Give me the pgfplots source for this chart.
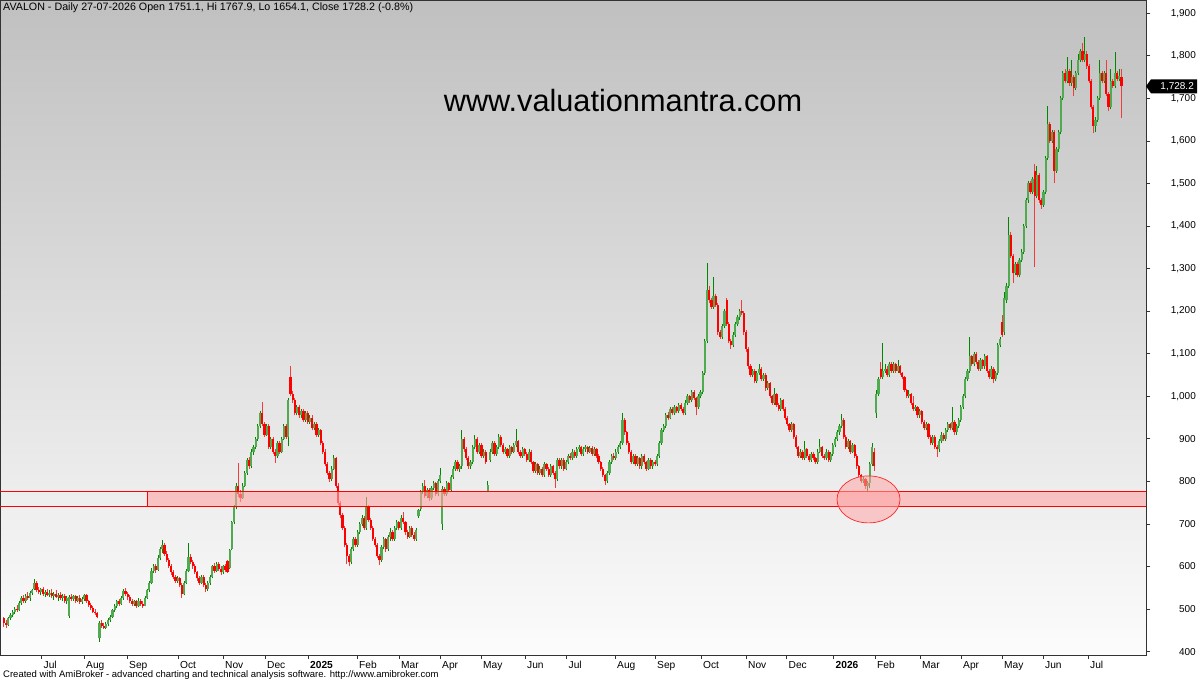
\documentclass[border=0pt]{standalone}
\usepackage{fontspec}
\setmainfont{Liberation Sans}
\usepackage{pgfplots}
\usepackage{pgfplotstable}
\pgfplotsset{compat=1.18}
\definecolor{upw}{RGB}{0,135,0}
\definecolor{upb}{RGB}{80,170,80}
\definecolor{dnw}{RGB}{240,60,60}
\definecolor{dnb}{RGB}{255,0,0}
\definecolor{bgtop}{RGB}{192,192,192}
\definecolor{bgbot}{RGB}{252,252,252}
\definecolor{zonefill}{RGB}{255,165,165}
\pgfplotstableread{
i o h l c
0 478 482 458 468
1 468 475 455 462
2 462 481 460 478
3 478 490 474 486
4 486 498 482 494
5 494 505 488 500
6 500 510 494 497
7 497 518 495 515
8 515 530 510 525
9 525 533 515 518
10 518 535 515 530
11 530 540 522 526
12 526 542 520 538
13 538 548 532 544
14 546 571 544 560
15 560 565 540 545
16 545 552 535 540
17 540 550 532 546
18 546 552 530 535
19 535 545 528 540
20 540 548 530 533
21 533 545 528 538
22 538 546 526 530
23 530 540 522 536
24 536 544 525 528
25 528 538 520 532
26 532 540 522 525
27 525 536 518 530
28 530 535 515 520
29 520 530 512 525
30 484 532 480 528
31 528 535 518 524
32 524 533 520 530
33 530 534 515 520
34 520 530 516 527
35 527 532 512 516
36 516 528 512 524
37 524 536 520 532
38 532 535 515 518
39 518 522 505 510
40 510 514 498 502
41 502 506 490 494
42 494 500 486 490
43 490 494 478 482
44 432 472 423 468
45 468 474 455 460
46 460 468 452 456
47 456 470 452 466
48 466 478 460 474
49 474 486 470 482
50 482 500 480 497
51 497 512 494 508
52 508 522 502 518
53 518 524 508 512
54 512 530 510 526
55 526 548 522 542
56 542 550 530 535
57 535 540 522 528
58 528 533 515 518
59 518 524 506 512
60 512 522 508 518
61 518 522 502 506
62 506 525 504 520
63 520 524 508 512
64 512 518 502 508
65 508 530 506 526
66 526 548 524 545
67 545 566 540 562
68 562 596 558 590
69 590 606 584 600
70 600 605 585 592
71 592 626 590 620
72 620 645 615 640
73 640 662 632 650
74 650 656 625 630
75 630 636 610 615
76 615 620 596 600
77 600 606 580 586
78 586 592 570 575
79 575 580 560 566
80 566 578 562 572
81 572 575 552 556
82 556 560 526 536
83 536 566 532 562
84 562 594 558 590
85 590 655 586 622
86 622 630 605 610
87 610 615 595 600
88 600 606 582 586
89 586 590 566 572
90 572 578 556 562
91 562 580 558 576
92 576 580 552 556
93 556 560 540 546
94 546 565 542 560
95 560 580 556 576
96 576 604 572 600
97 600 608 585 590
98 590 610 586 606
99 606 610 590 595
100 595 600 580 586
101 586 604 582 600
102 600 606 588 592
103 612 616 585 588
104 596 642 594 638
105 640 708 638 704
106 704 745 700 740
107 740 795 735 790
108 790 843 763 770
109 770 780 752 762
110 762 795 758 790
111 790 825 786 820
112 820 856 815 850
113 850 858 830 836
114 836 875 832 870
115 870 886 862 880
116 880 905 876 900
117 900 935 895 930
118 930 965 925 960
119 960 987 930 935
120 935 940 905 910
121 910 935 906 930
122 930 934 875 880
123 880 905 876 900
124 900 904 865 870
125 870 876 843 860
126 860 895 856 890
127 890 894 865 870
128 870 905 866 900
129 900 935 896 930
130 930 934 900 905
131 905 995 882 990
132 1045 1070 1000 1005
133 1005 1012 985 990
134 990 995 955 960
135 960 980 955 975
136 975 980 950 955
137 955 970 950 965
138 965 970 940 945
139 945 965 940 960
140 960 965 935 940
141 940 955 935 950
142 950 955 920 925
143 925 940 920 935
144 935 940 905 910
145 910 925 905 920
146 920 924 885 890
147 890 895 865 870
148 870 875 835 840
149 840 845 815 820
150 820 825 798 805
151 805 835 800 830
152 830 862 826 855
153 855 858 785 790
154 790 795 745 750
155 750 755 715 720
156 720 725 685 690
157 690 695 645 650
158 650 655 605 625
159 625 630 600 610
160 610 645 605 640
161 640 670 636 665
162 665 670 645 650
163 650 685 646 680
164 680 705 676 700
165 700 720 695 715
166 715 718 685 690
167 690 764 686 740
168 740 745 705 710
169 710 715 685 690
170 690 695 660 665
171 665 670 645 650
172 650 655 620 625
173 625 630 604 615
174 615 650 610 645
175 645 670 640 665
176 665 668 635 640
177 640 675 636 670
178 670 690 660 680
179 680 685 660 665
180 665 695 660 690
181 690 710 686 705
182 705 708 685 690
183 690 720 686 715
184 715 728 700 705
185 705 708 675 680
186 680 685 665 670
187 670 695 666 690
188 690 694 670 675
189 675 680 660 665
190 665 690 660 685
191 718 735 714 732
192 735 780 730 775
193 775 795 770 790
194 790 803 760 765
195 765 785 760 780
196 780 784 755 760
197 760 790 756 785
198 785 800 780 795
199 795 798 765 770
200 770 805 765 800
201 800 831 795 815
202 700 790 686 782
203 782 786 765 770
204 770 800 766 795
205 795 798 775 780
206 780 815 776 810
207 810 835 806 830
208 830 850 825 845
209 845 850 825 830
210 830 840 822 835
211 835 921 830 900
212 900 905 870 875
213 875 880 850 855
214 855 860 830 835
215 835 850 830 845
216 845 885 840 880
217 880 910 875 900
218 900 904 865 870
219 870 890 865 885
220 885 890 855 860
221 860 875 855 870
222 870 874 840 845
223 778 800 774 792
224 850 875 845 870
225 870 895 865 890
226 890 894 860 865
227 865 885 860 880
228 880 912 876 905
229 905 908 880 885
230 885 890 865 870
231 870 880 865 875
232 875 878 855 860
233 860 885 856 880
234 880 884 865 870
235 870 890 866 885
236 885 923 880 895
237 895 898 865 870
238 870 874 855 860
239 860 880 856 875
240 875 878 860 865
241 865 868 845 850
242 850 875 846 870
243 870 874 840 845
244 845 848 820 825
245 825 845 820 840
246 840 844 815 820
247 820 835 816 830
248 830 834 810 815
249 815 845 811 840
250 840 844 825 830
251 830 834 810 815
252 815 840 811 835
253 835 838 815 820
254 820 824 785 805
255 805 855 800 850
256 850 854 830 835
257 835 855 830 850
258 850 854 825 830
259 830 850 826 845
260 845 865 840 860
261 860 866 850 855
262 855 875 850 870
263 870 874 855 860
264 860 880 856 875
265 875 886 870 880
266 880 884 860 865
267 865 880 860 875
268 875 885 870 880
269 880 884 865 870
270 870 882 866 878
271 878 882 860 865
272 865 880 860 875
273 875 878 855 860
274 860 864 840 845
275 845 848 825 830
276 830 834 810 815
277 815 818 792 800
278 800 825 796 820
279 820 850 816 845
280 845 865 840 860
281 860 866 850 855
282 855 875 850 870
283 870 885 865 880
284 880 895 875 890
285 890 961 885 945
286 945 950 910 915
287 915 918 885 890
288 890 894 865 870
289 870 874 840 845
290 845 865 840 860
291 860 864 835 840
292 840 860 836 855
293 855 858 830 835
294 835 865 830 860
295 860 864 840 845
296 845 848 825 830
297 830 855 826 850
298 850 854 830 835
299 835 850 830 845
300 845 850 835 840
301 840 865 836 860
302 860 895 856 890
303 890 925 886 920
304 920 935 915 930
305 930 960 926 955
306 955 962 945 950
307 950 975 946 970
308 970 974 955 960
309 960 980 956 975
310 975 978 960 965
311 965 985 960 980
312 980 984 965 970
313 970 974 955 960
314 960 990 956 985
315 985 1005 980 1000
316 1000 1004 985 990
317 990 1015 986 1010
318 1010 1014 990 995
319 995 998 955 975
320 975 1005 970 1000
321 1000 1015 995 1010
322 1010 1060 1005 1055
323 1055 1135 1050 1130
324 1130 1313 1125 1250
325 1250 1260 1220 1225
326 1225 1230 1205 1210
327 1210 1280 1205 1235
328 1235 1240 1210 1215
329 1215 1220 1145 1150
330 1150 1155 1135 1140
331 1140 1170 1135 1165
332 1165 1205 1160 1200
333 1226 1230 1165 1170
334 1170 1175 1125 1130
335 1130 1135 1112 1120
336 1120 1150 1115 1145
337 1145 1175 1140 1170
338 1170 1190 1165 1185
339 1185 1205 1180 1200
340 1200 1226 1190 1195
341 1195 1200 1145 1150
342 1150 1155 1105 1110
343 1110 1115 1065 1070
344 1070 1075 1045 1050
345 1050 1065 1045 1060
346 1060 1064 1030 1035
347 1035 1060 1030 1055
348 1055 1075 1050 1065
349 1065 1068 1035 1040
350 1040 1055 1035 1050
351 1050 1054 1012 1020
352 1020 1035 1015 1030
353 1030 1034 995 1000
354 1000 1004 980 985
355 985 1020 980 1005
356 1005 1008 975 980
357 980 984 965 970
358 970 995 966 990
359 990 994 965 970
360 970 974 945 950
361 950 954 930 935
362 935 938 915 920
363 920 940 916 935
364 935 938 900 905
365 905 908 875 880
366 880 884 855 860
367 860 875 855 870
368 870 874 850 855
369 855 895 850 875
370 875 878 855 860
371 860 864 845 850
372 850 870 846 865
373 865 868 850 855
374 855 858 840 845
375 845 875 840 870
376 870 900 866 880
377 880 884 855 860
378 860 864 850 855
379 855 875 850 870
380 870 874 845 850
381 850 870 846 865
382 865 890 860 885
383 885 905 880 900
384 900 920 895 915
385 915 935 910 930
386 930 958 925 945
387 945 948 900 905
388 905 908 875 880
389 880 900 876 895
390 895 898 865 870
391 870 890 866 885
392 885 888 855 860
393 860 864 830 835
394 835 838 810 815
395 815 818 795 800
396 800 810 795 805
397 805 808 782 790
398 790 800 778 795
399 795 845 784 840
400 840 890 836 880
401 870 878 825 835
402 960 1015 949 1005
403 1005 1045 1000 1040
404 1065 1080 1040 1045
405 1045 1125 1040 1060
406 1060 1075 1055 1065
407 1065 1070 1045 1050
408 1050 1080 1045 1075
409 1075 1080 1055 1060
410 1060 1080 1055 1075
411 1075 1078 1055 1060
412 1060 1085 1055 1070
413 1070 1074 1050 1055
414 1055 1058 1040 1045
415 1045 1048 1010 1015
416 1015 1018 995 1000
417 1000 1015 995 1005
418 1005 1008 980 985
419 985 1000 965 970
420 970 980 965 975
421 975 978 950 955
422 955 970 950 965
423 965 968 935 940
424 940 944 920 925
425 925 940 920 935
426 935 938 900 905
427 905 908 885 890
428 890 910 885 905
429 905 908 875 880
430 880 885 857 875
431 875 900 870 895
432 895 915 890 910
433 910 914 895 900
434 900 925 895 920
435 920 940 915 935
436 935 938 920 925
437 925 975 920 940
438 940 944 910 915
439 915 935 910 930
440 930 950 925 945
441 945 980 940 975
442 975 1005 970 1000
443 1000 1045 995 1040
444 1040 1065 1035 1060
445 1060 1140 1055 1095
446 1095 1098 1070 1075
447 1075 1105 1070 1100
448 1100 1104 1075 1080
449 1080 1084 1060 1065
450 1065 1090 1060 1085
451 1085 1088 1065 1070
452 1070 1100 1065 1095
453 1095 1098 1055 1060
454 1060 1064 1040 1045
455 1045 1070 1040 1065
456 1065 1068 1030 1040
457 1040 1060 1035 1055
458 1055 1125 1050 1120
459 1120 1140 1115 1135
460 1175 1190 1140 1145
461 1150 1245 1145 1230
462 1225 1265 1220 1260
463 1260 1421 1255 1380
464 1380 1385 1325 1330
465 1330 1335 1266 1290
466 1290 1315 1285 1310
467 1310 1315 1280 1285
468 1285 1325 1280 1320
469 1320 1345 1315 1340
470 1340 1405 1335 1400
471 1400 1465 1395 1460
472 1460 1505 1455 1500
473 1500 1505 1475 1480
474 1480 1515 1475 1510
475 1530 1545 1304 1470
476 1470 1540 1465 1520
477 1520 1525 1455 1460
478 1460 1465 1440 1450
479 1450 1485 1445 1480
480 1480 1565 1475 1560
481 1560 1682 1555 1640
482 1640 1645 1595 1600
483 1600 1625 1595 1620
484 1620 1625 1500 1530
485 1530 1585 1525 1580
486 1580 1625 1575 1620
487 1620 1705 1615 1700
488 1700 1765 1695 1760
489 1760 1770 1735 1740
490 1740 1797 1735 1765
491 1765 1770 1730 1735
492 1735 1790 1730 1750
493 1750 1755 1705 1725
494 1725 1765 1720 1760
495 1760 1805 1755 1790
496 1790 1815 1785 1810
497 1810 1830 1785 1790
498 1790 1844 1785 1805
499 1805 1810 1770 1775
500 1775 1780 1735 1740
501 1740 1745 1675 1680
502 1680 1685 1618 1635
503 1635 1655 1620 1650
504 1650 1705 1645 1700
505 1700 1790 1695 1760
506 1760 1765 1735 1740
507 1740 1765 1735 1760
508 1760 1790 1705 1710
509 1710 1715 1670 1680
510 1680 1770 1675 1740
511 1740 1745 1725 1730
512 1730 1809 1725 1760
513 1760 1765 1740 1745
514 1745 1770 1740 1752
515 1751.1 1767.9 1654.1 1728.2
}\ohlc
\begin{document}
\begin{tikzpicture}
\useasboundingbox (0,-25pt) rectangle (1199pt,655pt);
\begin{axis}[
  at={(0,0)}, anchor=south west,
  scale only axis, width=1146pt, height=655pt,
  xmin=0, xmax=1146, ymin=392, ymax=1931,
  unbounded coords=discard,
  axis background/.style={top color=bgtop, bottom color=bgbot},
  axis line style={black!80, line width=0.8pt},
  ytick={400,500,...,1900},
  yticklabel pos=right, ytick pos=right,
  xtick pos=bottom,
  xtick={41.5,84,127,178,223,265,308,357,399,440,481,525,566.5,615,655,701,746,786.5,833.5,875,920,961,1002,1043,1088},
  xticklabels={Jul,Aug,Sep,Oct,Nov,Dec,\textbf{2025},Feb,Mar,Apr,May,Jun,Jul,Aug,Sep,Oct,Nov,Dec,\textbf{2026},Feb,Mar,Apr,May,Jun,Jul},
  tick align=outside, major tick length=4pt,
  tick style={black!80, line width=0.6pt},
  tick label style={font=\fontsize{10}{12}\selectfont, inner sep=0pt},
  xticklabel style={font=\fontsize{10.2}{12}\selectfont, anchor=north west, xshift=2pt, yshift=-2pt},
  yticklabel style={anchor=east, xshift=46pt},
  /pgf/number format/1000 sep={,},
  /pgf/number format/assume math mode=true,
]
% wicks
\addplot[draw=none, mark=none,
  error bars/.cd, y dir=plus, y explicit, error mark=none,
  error bar style={draw=upw, line width=1pt}]
  table[x expr=4+2.17*\thisrow{i}, y expr={\thisrow{c}>=\thisrow{o} ? \thisrow{l} : nan}, y error expr=\thisrow{h}-\thisrow{l}] {\ohlc};
\addplot[draw=none, mark=none,
  error bars/.cd, y dir=plus, y explicit, error mark=none,
  error bar style={draw=dnw, line width=1pt}]
  table[x expr=4+2.17*\thisrow{i}, y expr={\thisrow{c}<\thisrow{o} ? \thisrow{l} : nan}, y error expr=\thisrow{h}-\thisrow{l}] {\ohlc};
% bodies
\addplot[draw=none, mark=none,
  error bars/.cd, y dir=plus, y explicit, error mark=none,
  error bar style={draw=upb, line width=2.2pt}]
  table[x expr=4+2.17*\thisrow{i}, y expr={\thisrow{c}>=\thisrow{o} ? \thisrow{o} : nan}, y error expr={max(\thisrow{c}-\thisrow{o},2)}] {\ohlc};
\addplot[draw=none, mark=none,
  error bars/.cd, y dir=plus, y explicit, error mark=none,
  error bar style={draw=dnb, line width=2.2pt}]
  table[x expr=4+2.17*\thisrow{i}, y expr={\thisrow{c}<\thisrow{o} ? \thisrow{c} : nan}, y error expr={max(\thisrow{o}-\thisrow{c},2)}] {\ohlc};
% support zone
\fill[zonefill, opacity=0.6] (axis cs:147,741) rectangle (axis cs:1146,776);
\draw[red, line width=0.7pt] (axis cs:0,776) -- (axis cs:1146,776);
\draw[red, line width=1.3pt] (axis cs:0,741) -- (axis cs:1146,741);
\draw[red, line width=0.9pt] (axis cs:147,741) -- (axis cs:147,776);
\filldraw[fill=zonefill, fill opacity=0.55, draw=red!85, line width=0.7pt] (axis cs:868.5,757.6) ellipse [x radius=31.5pt, y radius=23.5pt];
\coordinate (lab) at (axis cs:1146,1728.2);
\end{axis}
\fill[black] (lab) -- ++(5pt,7pt) -- ++(46pt,0) -- ++(0,-14pt) -- ++(-46pt,0) -- cycle;
\node[white, anchor=east, inner sep=0pt, font=\fontsize{10}{12}\selectfont] at ([xshift=48pt]lab) {1,728.2};
\node[anchor=west, inner sep=0pt, font=\fontsize{10.7}{12}\selectfont] at (3pt,647.5pt) {AVALON - Daily 27-07-2026 Open 1751.1, Hi 1767.9, Lo 1654.1, Close 1728.2 (-0.8\%)};
\node[anchor=center, inner sep=0pt, font=\fontsize{30.7}{34}\selectfont] at (623pt,554pt) {www.valuationmantra.com};
\node[anchor=west, inner sep=0pt, font=\fontsize{9.5}{11}\selectfont] at (3pt,-20.5pt) {Created with AmiBroker - advanced charting and technical analysis software. http://www.amibroker.com};
\end{tikzpicture}
\end{document}
